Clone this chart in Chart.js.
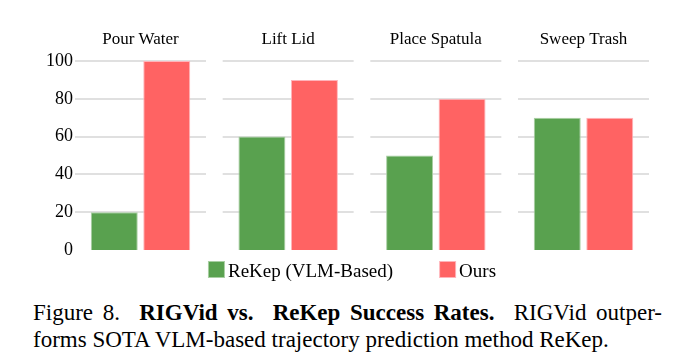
<!DOCTYPE html>
<html>
<head>
<meta charset="utf-8">
<script src="https://cdn.jsdelivr.net/npm/chart.js"></script>
<style>
  html, body { margin: 0; padding: 0; background: #fff; }
  #wrap { position: relative; width: 689px; height: 360px; overflow: hidden; }
  #c { position: absolute; left: 0; top: 0; }
  #cap { position: absolute; left: 33px; top: 299px; width: 629px;
         font-family: "Liberation Serif", "Times New Roman", serif; font-size: 23px;
         line-height: 27px; color: #000; }
  #cap .l1 { text-align: justify; text-align-last: justify; white-space: nowrap; }
  #cap .l2 { text-align: left; white-space: nowrap; }
</style>
</head>
<body>
<div id="wrap">
  <canvas id="c" width="689" height="290"></canvas>
  <div id="cap">
    <div class="l1">Figure 8.&nbsp; <b>RIGVid vs.&nbsp; ReKep Success Rates.</b>&nbsp; RIGVid outper-</div>
    <div class="l2">forms SOTA VLM-based trajectory prediction method ReKep.</div>
  </div>
</div>
<script>
// ---- data ----
const categories = ['Pour Water', 'Lift Lid', 'Place Spatula', 'Sweep Trash'];
const seriesNames = ['ReKep (VLM-Based)', 'Ours'];
const rekepValues = [20, 60, 50, 70];
const oursValues = [100, 90, 80, 70];
const yTickValues = [0, 20, 40, 60, 80, 100];

// ---- styles ----
const SERIF = '"Liberation Serif", "Times New Roman", serif';
const GREEN = '#59a14f';
const RED = '#ff6363';

const panelGrid = {
  id: 'panelGrid',
  beforeDatasetsDraw(chart) {
    const xs = chart.scales.x, ys = chart.scales.y;
    const ctx = chart.ctx;
    const catW = xs.width / categories.length;
    const half = catW * 0.887 / 2;
    ctx.save();
    ctx.strokeStyle = '#e0e0e0';
    ctx.lineWidth = 2;
    categories.forEach((c, i) => {
      const cx = xs.getPixelForValue(i);
      yTickValues.forEach(v => {
        if (v === 0) return;
        const y = Math.round(ys.getPixelForValue(v));
        ctx.beginPath();
        ctx.moveTo(cx - half, y);
        ctx.lineTo(cx + half, y);
        ctx.stroke();
      });
    });
    ctx.restore();
  }
};

const bottomLegend = {
  id: 'bottomLegend',
  afterDraw(chart) {
    const ctx = chart.ctx;
    const box = 17, gapText = 3, gapItem = 46;
    ctx.save();
    ctx.font = '19px ' + SERIF;
    const items = chart.data.datasets.map(d => ({ text: d.label, color: d.backgroundColor, border: d.borderColor, w: ctx.measureText(d.label).width }));
    let total = 0;
    items.forEach((it, i) => { total += box + gapText + it.w + (i < items.length - 1 ? gapItem : 0); });
    const centerX = (chart.chartArea.left + chart.chartArea.right) / 2 - 10;
    let x = centerX - total / 2;
    const top = chart.chartArea.bottom + 11;
    items.forEach(it => {
      ctx.fillStyle = it.border;
      ctx.fillRect(x, top, box, box);
      ctx.fillStyle = it.color;
      ctx.fillRect(x + 1, top + 1, box - 2, box - 2);
      ctx.fillStyle = '#000';
      ctx.textBaseline = 'alphabetic';
      ctx.textAlign = 'left';
      ctx.fillText(it.text, x + box + gapText, top + 15.7);
      x += box + gapText + it.w + gapItem;
    });
    ctx.restore();
  }
};

new Chart(document.getElementById('c'), {
  type: 'bar',
  data: {
    labels: categories,
    datasets: [
      { label: seriesNames[0], data: rekepValues, backgroundColor: GREEN, borderColor: '#a9cfa3', borderWidth: 1,
        categoryPercentage: 0.711, barPercentage: 0.895 },
      { label: seriesNames[1], data: oursValues, backgroundColor: RED, borderColor: '#ffb4ba', borderWidth: 1,
        categoryPercentage: 0.711, barPercentage: 0.895 }
    ]
  },
  options: {
    responsive: false,
    animation: false,
    devicePixelRatio: 1,
    layout: { padding: { left: 0, right: 31.67, top: 0, bottom: 40 } },
    plugins: { legend: { display: false }, tooltip: { enabled: false }, title: { display: false } },
    scales: {
      x: {
        type: 'category',
        position: 'top',
        offset: true,
        grid: { display: false },
        border: { display: false },
        ticks: { color: '#000', font: { family: SERIF, size: 17 }, padding: 3, maxRotation: 0, autoSkip: false },
        afterFit(s) { s.height = 61; }
      },
      y: {
        min: 0, max: 100,
        afterBuildTicks(s) { s.ticks = yTickValues.map(v => ({ value: v })); },
        grid: { display: false, drawTicks: false },
        border: { display: false },
        ticks: { color: '#000', font: { family: SERIF, size: 18 }, mirror: true, crossAlign: 'far', padding: -20.67 },
        afterFit(s) { s.width = 66.67; }
      }
    }
  },
  plugins: [panelGrid, bottomLegend]
});
</script>
</body>
</html>
